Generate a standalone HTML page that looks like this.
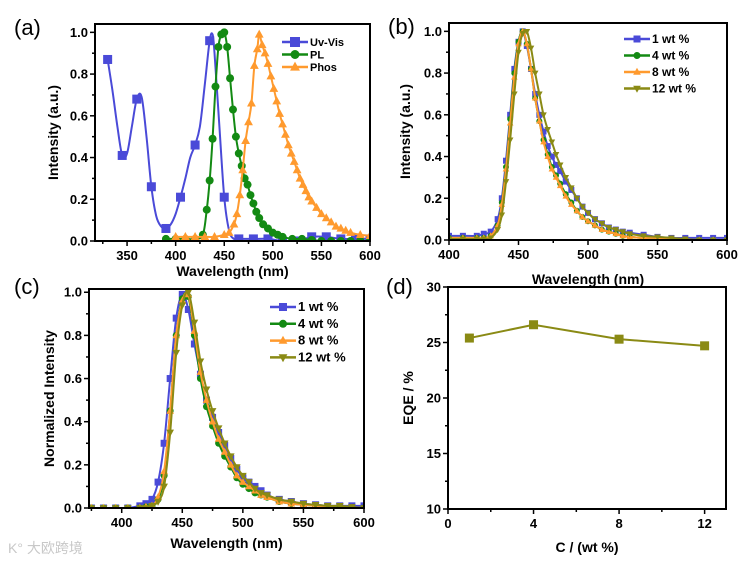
<!DOCTYPE html>
<html><head><meta charset="utf-8"><style>
body{margin:0;background:#fff;width:750px;height:560px;overflow:hidden}
svg{font-family:"Liberation Sans",Arial,sans-serif}
</style></head><body>
<svg id="fig" width="750" height="560" xmlns="http://www.w3.org/2000/svg"></svg>
<script>
// ---- Panel (a) data ----
const aUvX=[330,335,340,345,350,355,360,365,370,375,380,385,390,395,400,405,410,415,420,425,430,435,438,440,445,450,455,460,465,480,495,510,525,540,555,570,585,600];
const aUvY=[.87,.72,.55,.41,.42,.55,.68,.69,.50,.26,.12,.07,.06,.08,.13,.21,.30,.40,.46,.55,.75,.96,.99,.90,.55,.21,.05,.01,.01,.01,.01,0,0,.02,.02,.01,.01,.01];
const aUvMarkX=[330,345,360,375,390,405,420,435,450,465,480,495,510,525,540,555,570,585,600];
const aPlX=[390,400,410,420,428,432,435,438,441,444,447,450,453,456,459,462,465,468,471,474,477,480,483,486,490,495,500,505,510,520,530,540,550,560,570,580,590,600];
const aPlY=[.01,.01,.01,.01,.03,.15,.29,.49,.74,.93,.99,1.0,.93,.78,.63,.50,.42,.36,.30,.27,.22,.18,.14,.11,.08,.06,.04,.03,.02,.01,.01,.005,0,0,0,0,0,0];
const aPhX=[400,410,420,430,440,450,455,460,463,466,469,472,475,478,481,484,486,489,492,495,498,501,504,507,510,513,516,519,522,525,528,531,534,537,540,545,550,555,560,565,570,575,580,590,600];
const aPhY=[.02,.02,.02,.02,.02,.03,.04,.08,.13,.22,.34,.48,.57,.66,.84,.92,.99,.94,.90,.85,.79,.73,.67,.61,.56,.51,.46,.42,.38,.34,.30,.27,.24,.21,.19,.16,.13,.11,.09,.07,.06,.05,.04,.03,.025];
// ---- Panel (b) data ----
const bX=[400,410,420,425,430,435,438,441,444,447,450,453,456,459,462,465,468,471,474,477,480,484,488,492,496,500,505,510,515,520,525,530,540,550,560,570,580,590,600];
const b1=[.02,.02,.02,.03,.04,.1,.2,.38,.6,.82,.95,1.0,.93,.82,.7,.6,.52,.45,.4,.36,.33,.28,.24,.2,.16,.13,.1,.08,.06,.05,.04,.035,.025,.015,.01,.01,.01,.01,.01];
const b4=[.01,.01,.01,.01,.02,.07,.18,.35,.58,.8,.95,1.0,.94,.82,.68,.57,.48,.41,.35,.31,.27,.22,.18,.14,.11,.09,.07,.05,.04,.03,.02,.015,.01,.01,.005,0,0,0,0];
const b8=[.01,.01,.01,.01,.02,.07,.17,.34,.56,.78,.94,1.0,.94,.82,.68,.57,.47,.4,.34,.3,.26,.21,.17,.14,.11,.09,.07,.05,.04,.03,.02,.015,.01,.01,.005,0,0,0,0];
const b12=[.005,.005,.005,.005,.01,.05,.12,.28,.48,.7,.9,.99,1.0,.92,.8,.7,.6,.53,.47,.41,.36,.3,.25,.2,.16,.13,.1,.08,.06,.05,.04,.03,.02,.015,.01,.005,0,0,0];
// ---- Panel (c) data ----
const cX=[375,385,395,405,415,420,425,430,435,440,445,450,455,460,465,470,475,480,485,490,495,500,505,510,515,520,530,540,550,560,570,580,590,600];
const c1=[0,0,0,0,.01,.02,.04,.12,.3,.6,.88,.99,.92,.76,.62,.5,.42,.35,.29,.23,.18,.14,.12,.1,.08,.06,.04,.03,.02,.015,.01,.01,.01,.01];
const c4=[0,0,0,0,0,.005,.01,.04,.15,.45,.8,.97,.98,.8,.6,.47,.38,.3,.24,.19,.14,.11,.09,.07,.06,.05,.03,.02,.015,.01,.005,0,0,0];
const c8=[0,0,0,0,0,.005,.01,.05,.17,.45,.8,.96,.99,.82,.63,.5,.4,.32,.26,.2,.15,.12,.1,.08,.06,.05,.03,.02,.015,.01,.005,0,0,0];
const c12=[0,0,0,0,0,0,.01,.03,.1,.35,.72,.94,1.0,.86,.68,.55,.45,.37,.3,.24,.19,.15,.12,.09,.07,.06,.04,.03,.02,.015,.01,.01,.005,0];
// ---- Panel (d) data ----
const dX=[1,4,8,12];
const dY=[25.4,26.6,25.3,24.7];
const aXTicks=[350,400,450,500,550,600];
const specYTicks=[0,0.2,0.4,0.6,0.8,1.0];
const bXTicks=[400,450,500,550,600];
const cXTicks=[400,450,500,550,600];
const dXTicks=[0,4,8,12];
const dYTicks=[10,15,20,25,30];

const NS="http://www.w3.org/2000/svg";
const svg=document.getElementById('fig');
function el(tag,attrs,parent,text){const e=document.createElementNS(NS,tag);for(const k in attrs)e.setAttribute(k,attrs[k]);if(text!==undefined)e.textContent=text;(parent||svg).appendChild(e);return e;}
const BLUE='#4a4ad8',GREEN='#138a13',ORANGE='#ff9a2e',OLIVE='#8a8a14';

function smoothPath(pts){let d='M'+pts[0][0]+','+pts[0][1];for(let i=0;i<pts.length-1;i++){const p0=pts[i-1]||pts[i],p1=pts[i],p2=pts[i+1],p3=pts[i+2]||p2;const c1x=p1[0]+(p2[0]-p0[0])/6,c1y=p1[1]+(p2[1]-p0[1])/6,c2x=p2[0]-(p3[0]-p1[0])/6,c2y=p2[1]-(p3[1]-p1[1])/6;d+=' C'+c1x+','+c1y+' '+c2x+','+c2y+' '+p2[0]+','+p2[1];}return d;}
function marker(g,type,x,y,col,s){
  let m;
  if(type==='sq'){m=el('rect',{x:x-s,y:y-s,width:2*s,height:2*s,fill:col},g);}
  else if(type==='ci'){m=el('circle',{cx:x,cy:y,r:s,fill:col},g);}
  else if(type==='tu'){m=el('polygon',{points:`${x},${y-s*1.2} ${x-s*1.1},${y+s*0.8} ${x+s*1.1},${y+s*0.8}`,fill:col},g);}
  else {m=el('polygon',{points:`${x},${y+s*1.2} ${x-s*1.1},${y-s*0.8} ${x+s*1.1},${y-s*0.8}`,fill:col},g);}
  
  
}
function panel(o){
  const g=el('g',{},svg);
  
  
  const sx=v=>o.x0+(v-o.xmin)/(o.xmax-o.xmin)*(o.x1-o.x0);
  const sy=v=>o.y1-(v-o.ymin)/(o.ymax-o.ymin)*(o.y1-o.y0);
  const clip='clip'+o.id;
  const cp=el('clipPath',{id:clip},g);el('rect',{x:o.x0,y:o.y0,width:o.x1-o.x0,height:o.y1-o.y0},cp);
  const dg=el('g',{'clip-path':`url(#${clip})`},g);
  o.series.forEach(s=>{
    const sg=el('g',{},dg);
    
    
    const pts=s.x.map((v,i)=>[sx(v),sy(s.y[i])]);
    el('path',{d:s.straight?('M'+pts.map(p=>p.join(',')).join(' L')):smoothPath(pts),fill:'none',stroke:s.color,'stroke-width':2},sg);
    const mx=s.mx||s.x;
    mx.forEach(v=>{const i=s.x.indexOf(v);if(i>=0)marker(sg,s.m,sx(v),sy(s.y[i]),s.color,s.ms);});
  });
  // frame
  const f=el('rect',{x:o.x0,y:o.y0,width:o.x1-o.x0,height:o.y1-o.y0,fill:'none',stroke:'#000','stroke-width':2},g);
  
  const xa=el('g',{},g);
  o.xt.forEach((v,i)=>{const x=sx(v);el('line',{x1:x,x2:x,y1:o.y1,y2:o.y1+5,stroke:'#000','stroke-width':1.5},xa);
    if(i<o.xt.length-1&&o.minor){const xm=sx(v+o.minor);if(xm<=o.x1)el('line',{x1:xm,x2:xm,y1:o.y1,y2:o.y1+3,stroke:'#000','stroke-width':1.5},xa);}
    el('text',{x:x,y:o.y1+19,'text-anchor':'middle','font-size':13,'font-weight':'bold'},xa,String(v));});
  if(o.minor&&o.xt[0]-o.minor>=o.xmin){const xm=sx(o.xt[0]-o.minor);el('line',{x1:xm,x2:xm,y1:o.y1,y2:o.y1+3,stroke:'#000','stroke-width':1.5},xa);}
  const ya=el('g',{},g);
  o.yt.forEach((v,i)=>{const y=sy(v);el('line',{x1:o.x0-5,x2:o.x0,y1:y,y2:y,stroke:'#000','stroke-width':1.5},ya);
    if(i<o.yt.length-1){const ym=sy(v+(o.yt[1]-o.yt[0])/2);el('line',{x1:o.x0-3,x2:o.x0,y1:ym,y2:ym,stroke:'#000','stroke-width':1.5},ya);}
    el('text',{x:o.x0-7,y:y+4.5,'text-anchor':'end','font-size':13,'font-weight':'bold'},ya,o.yfmt(v));});
  const xt=el('text',{x:(o.x0+o.x1)/2,y:o.xty,'text-anchor':'middle','font-size':14,'font-weight':'bold'},g,o.xtitle);
  
  const yt=el('text',{x:0,y:0,transform:`translate(${o.ytx},${(o.y0+o.y1)/2}) rotate(-90)`,'text-anchor':'middle','font-size':14,'font-weight':'bold'},g,o.ytitle);
  
  const pl=el('text',{x:o.lx,y:o.ly,'font-size':22},g,o.plabel);
  
  if(o.legend){const lg=el('g',{},g);
    o.series.forEach((s,i)=>{const y=o.legend.y+i*o.legend.dy;const e=el('g',{},lg);
      
      el('line',{x1:o.legend.x,x2:o.legend.x+26,y1:y,y2:y,stroke:s.color,'stroke-width':2.5},e);
      marker(e,s.m,o.legend.x+13,y,s.color,s.ms+0.5);
      el('text',{x:o.legend.x+28,y:y+4,'font-size':o.legend.fs,'font-weight':'bold'},e,s.label);});}
}
const f1=v=>v.toFixed(1);
panel({id:'a',name:'panel-a',x0:95,x1:370,y0:24,y1:241,xmin:317,xmax:600,ymin:0,ymax:1.04,xt:aXTicks,minor:25,yt:specYTicks,yfmt:f1,
  xtitle:'Wavelength (nm)',xty:276,ytitle:'Intensity (a.u.)',ytx:58,plabel:'(a)',lx:14,ly:35,
  legend:{x:282,y:42,dy:12.5,fs:11},
  series:[{label:'Uv-Vis',x:aUvX,y:aUvY,mx:aUvMarkX,color:BLUE,m:'sq',ms:4.5},
          {label:'PL',x:aPlX,y:aPlY,color:GREEN,m:'ci',ms:4},
          {label:'Phos',x:aPhX,y:aPhY,color:ORANGE,m:'tu',ms:4}]});
panel({id:'b',name:'panel-b',x0:449,x1:727,y0:23,y1:240,xmin:400,xmax:600,ymin:0,ymax:1.04,xt:bXTicks,minor:25,yt:specYTicks,yfmt:f1,
  xtitle:'Wavelength (nm)',xty:284,ytitle:'Intensity (a.u.)',ytx:410,plabel:'(b)',lx:388,ly:34,
  legend:{x:624,y:39,dy:16.5,fs:12},
  series:[{label:'1 wt %',x:bX,y:b1,color:BLUE,m:'sq',ms:3},
          {label:'4 wt %',x:bX,y:b4,color:GREEN,m:'ci',ms:3},
          {label:'8 wt %',x:bX,y:b8,color:ORANGE,m:'tu',ms:3},
          {label:'12 wt %',x:bX,y:b12,color:OLIVE,m:'td',ms:3}]});
panel({id:'c',name:'panel-c',x0:89,x1:364,y0:289,y1:508,xmin:373,xmax:600,ymin:0,ymax:1.015,xt:cXTicks,minor:25,yt:specYTicks,yfmt:f1,
  xtitle:'Wavelength (nm)',xty:548,ytitle:'Normalized Intensity',ytx:54,plabel:'(c)',lx:14,ly:294,
  legend:{x:270,y:307,dy:16.8,fs:13},
  series:[{label:'1 wt %',x:cX,y:c1,color:BLUE,m:'sq',ms:3.5},
          {label:'4 wt %',x:cX,y:c4,color:GREEN,m:'ci',ms:3.5},
          {label:'8 wt %',x:cX,y:c8,color:ORANGE,m:'tu',ms:3.5},
          {label:'12 wt %',x:cX,y:c12,color:OLIVE,m:'td',ms:3.5}]});
panel({id:'d',name:'panel-d',x0:448,x1:726,y0:287,y1:509,xmin:0,xmax:13,ymin:10,ymax:30,xt:dXTicks,minor:2,yt:dYTicks,yfmt:v=>String(v),
  xtitle:'C / (wt %)',xty:552,ytitle:'EQE / %',ytx:413,plabel:'(d)',lx:386,ly:294,
  series:[{label:'EQE',x:dX,y:dY,color:OLIVE,m:'sq',ms:4.5,straight:true}]});
const wm=el('text',{x:8,y:553,'font-size':14,fill:'#c8c8c8','font-family':'"Liberation Sans","Noto Sans CJK SC",sans-serif'},svg,'K° 大欧跨境');


</script>
</body></html>
